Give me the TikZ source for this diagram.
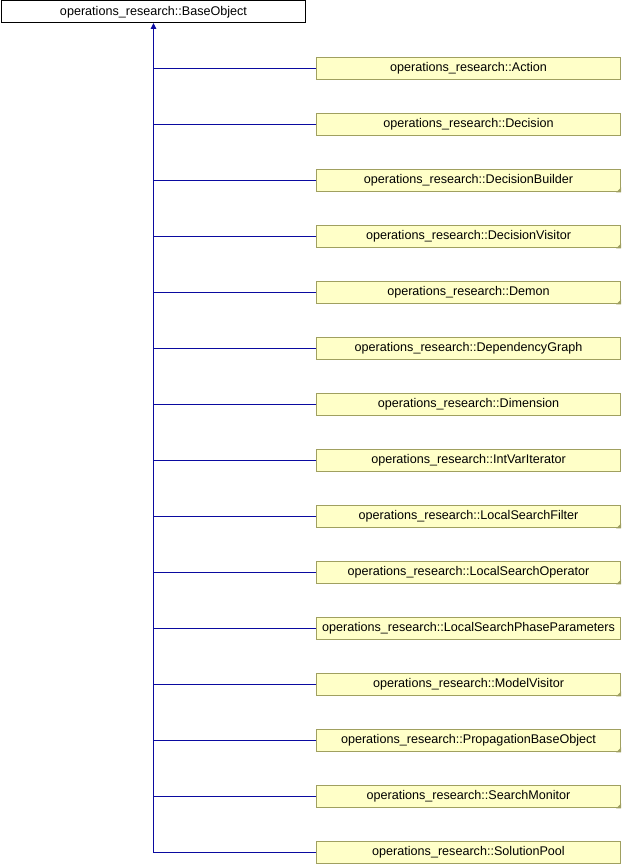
\documentclass[tikz,border=0pt]{standalone}
\usepackage{fontspec}
\setmainfont{Liberation Sans}
\usetikzlibrary{arrows.meta}
\definecolor{boxfill}{HTML}{FFFFC8}
\definecolor{boxline}{HTML}{A0A060}
\definecolor{edge}{HTML}{0A0AA0}
\begin{document}
\begin{tikzpicture}[x=1pt,y=-1pt,
  base/.style={draw=black,line width=1pt,fill=white,minimum width=304pt,minimum height=22pt,inner sep=0pt,font=\fontsize{12.6pt}{14pt}\selectfont},
  cls/.style={draw=boxline,line width=1.4pt,fill=boxfill,minimum width=304pt,minimum height=22.5pt,inner sep=0pt,font=\fontsize{12.6pt}{14pt}\selectfont},
  link/.style={draw=edge,line width=1pt},
  ear/.style={fill=boxline}]
\useasboundingbox (0,0) rectangle (622,864);
\node[base] (b) at (153.5,12) {operations\_research::BaseObject};
\foreach \name/\lbl/\e [count=\i from 0] in {
  a/Action/0, d/Decision/0, db/DecisionBuilder/1, dv/DecisionVisitor/1,
  dm/Demon/1, dg/DependencyGraph/0, di/Dimension/0, iv/IntVarIterator/0,
  lf/LocalSearchFilter/1, lo/LocalSearchOperator/1, lp/LocalSearchPhaseParameters/0,
  mv/ModelVisitor/1, pb/PropagationBaseObject/1, sm/SearchMonitor/1, sp/SolutionPool/0}{
  \node[cls] (\name) at (468.5,{68.5+56*\i}) {operations\_research::\lbl};
  \ifnum\e=1
    \fill[ear] ([xshift=-5pt]\name.south east) -- (\name.south east) -- ([yshift=5pt]\name.south east) -- cycle;
  \fi
  \draw[link] (\name.west) -- (\name.west -| b.south);
}
\coordinate (trunk) at (sp.west -| b.south);
\draw[link,-{Triangle[width=5.5pt,length=6pt]}] (trunk) -- ([yshift=0.5pt]b.south);
\end{tikzpicture}
\end{document}
